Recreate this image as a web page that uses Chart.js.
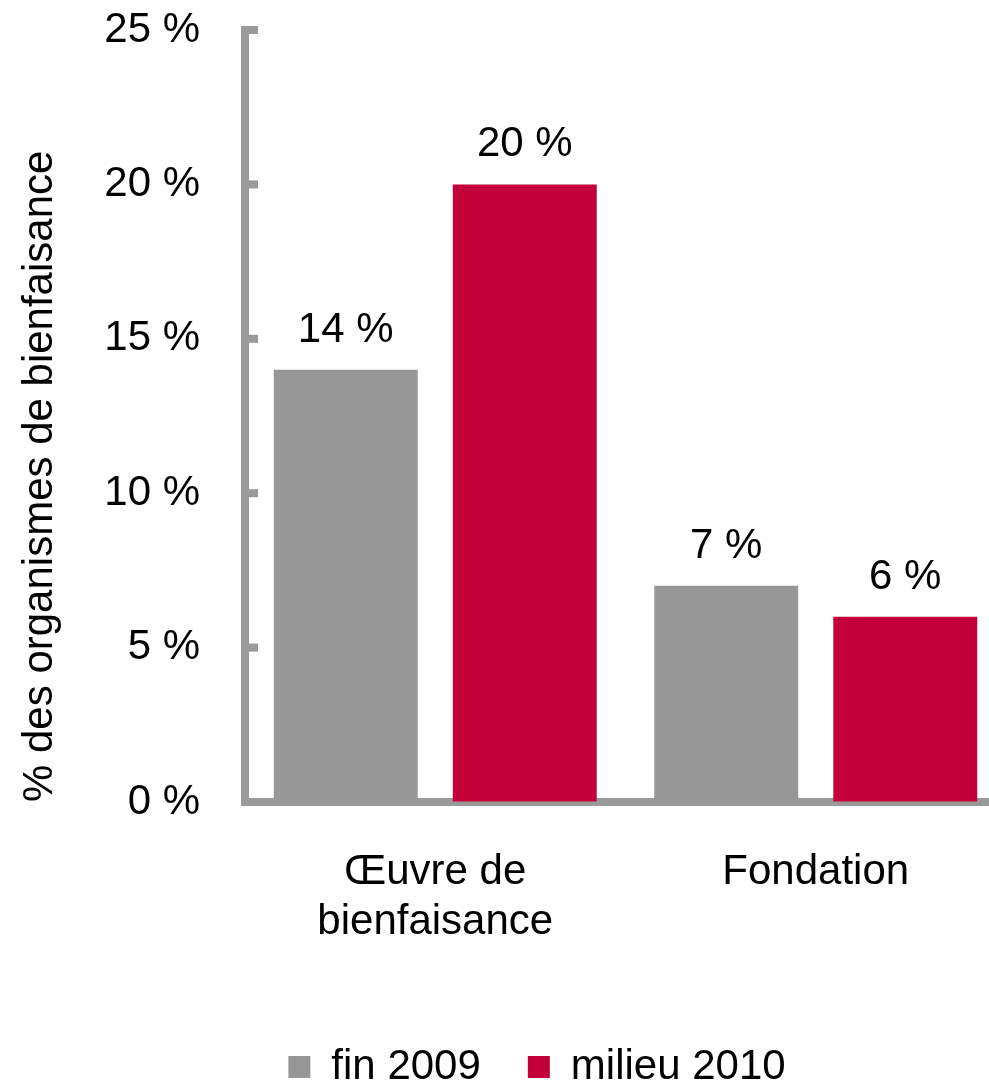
<!DOCTYPE html>
<html>
<head>
<meta charset="utf-8">
<script src="https://cdn.jsdelivr.net/npm/chart.js@4"></script>
<style>
  html, body { margin: 0; padding: 0; background: #fff; overflow: hidden; }
  #wrap { position: relative; width: 1010px; height: 1090px; }
</style>
</head>
<body>
<div id="wrap"><canvas id="chart"></canvas></div>
<script>
// données
const categories = [['Œuvre de', 'bienfaisance'], 'Fondation'];
const seriesNames = ['fin 2009', 'milieu 2010'];
const fin2009 = [14, 7];
const milieu2010 = [20, 6];
const yTicks = [0, 5, 10, 15, 20, 25];

const GREY = '#979797';
const RED = '#c3003a';
const AXIS = '#9a9a9a';
const FONT = "'Liberation Sans', Arial, sans-serif";

// étiquettes de valeur au-dessus des barres
const barLabels = {
  id: 'barLabels',
  afterDatasetsDraw(chart) {
    const ctx = chart.ctx;
    ctx.save();
    ctx.font = '42px ' + FONT;
    ctx.fillStyle = '#000';
    ctx.textAlign = 'center';
    ctx.textBaseline = 'alphabetic';
    chart.data.datasets.forEach((ds, i) => {
      chart.getDatasetMeta(i).data.forEach((bar, j) => {
        ctx.fillText(ds.data[j] + ' %', bar.x, bar.y - 28);
      });
    });
    ctx.restore();
  }
};

// petites graduations vers l'intérieur de l'axe vertical
const innerTicks = {
  id: 'innerTicks',
  afterDraw(chart) {
    const ctx = chart.ctx;
    const y = chart.scales.y;
    const left = chart.chartArea.left;
    ctx.save();
    ctx.fillStyle = AXIS;
    yTicks.forEach((v) => {
      const py = y.getPixelForValue(v);
      ctx.fillRect(left + 3, py - 4, 10, 8);
    });
    ctx.restore();
  }
};

// légende un peu décalée (vers la droite et vers le bas)
const legendShift = {
  id: 'legendShift',
  afterLayout(chart) {
    chart.legend.left += 58;
    chart.legend.top += 8;
  }
};

const chart = new Chart(document.getElementById('chart'), {
  type: 'bar',
  data: {
    labels: categories,
    datasets: [
      {
        label: seriesNames[0],
        data: fin2009,
        backgroundColor: GREY,
        barPercentage: 0.804,
        categoryPercentage: 0.941,
      },
      {
        label: seriesNames[1],
        data: milieu2010,
        backgroundColor: RED,
        barPercentage: 0.804,
        categoryPercentage: 0.941,
      },
    ],
  },
  options: {
    responsive: true,
    maintainAspectRatio: false,
    animation: false,
    layout: { padding: { left: 10, right: 4, top: 30, bottom: 0 } },
    plugins: {
      tooltip: { enabled: false },
      legend: {
        position: 'bottom',
        labels: {
          boxWidth: 22,
          boxHeight: 22,
          padding: 47,
          color: '#000',
          font: { family: FONT, size: 42 },
        },
      },
    },
    scales: {
      x: {
        afterFit: (scale) => { scale.height = 189; },
        grid: { drawOnChartArea: false, drawTicks: false },
        border: { color: AXIS, width: 8 },
        ticks: {
          color: '#000',
          padding: 45,
          font: { family: FONT, size: 42 },
        },
      },
      y: {
        min: 0,
        max: 25,
        afterFit: (scale) => { scale.width = 235; },
        afterBuildTicks: (scale) => {
          scale.ticks = yTicks.map((v) => ({ value: v }));
        },
        grid: { drawOnChartArea: false, drawTicks: true, tickLength: 45, tickColor: 'rgba(0,0,0,0)' },
        border: { color: AXIS, width: 8 },
        ticks: {
          color: '#000',
          padding: 0,
          font: { family: FONT, size: 42 },
          callback: (v) => v + ' %',
        },
        title: {
          display: true,
          text: '% des organismes de bienfaisance',
          align: 'start',
          color: '#000',
          padding: { top: 5, bottom: 0 },
          font: { family: FONT, size: 42 },
        },
      },
    },
  },
  plugins: [barLabels, innerTicks, legendShift],
});
</script>
</body>
</html>
